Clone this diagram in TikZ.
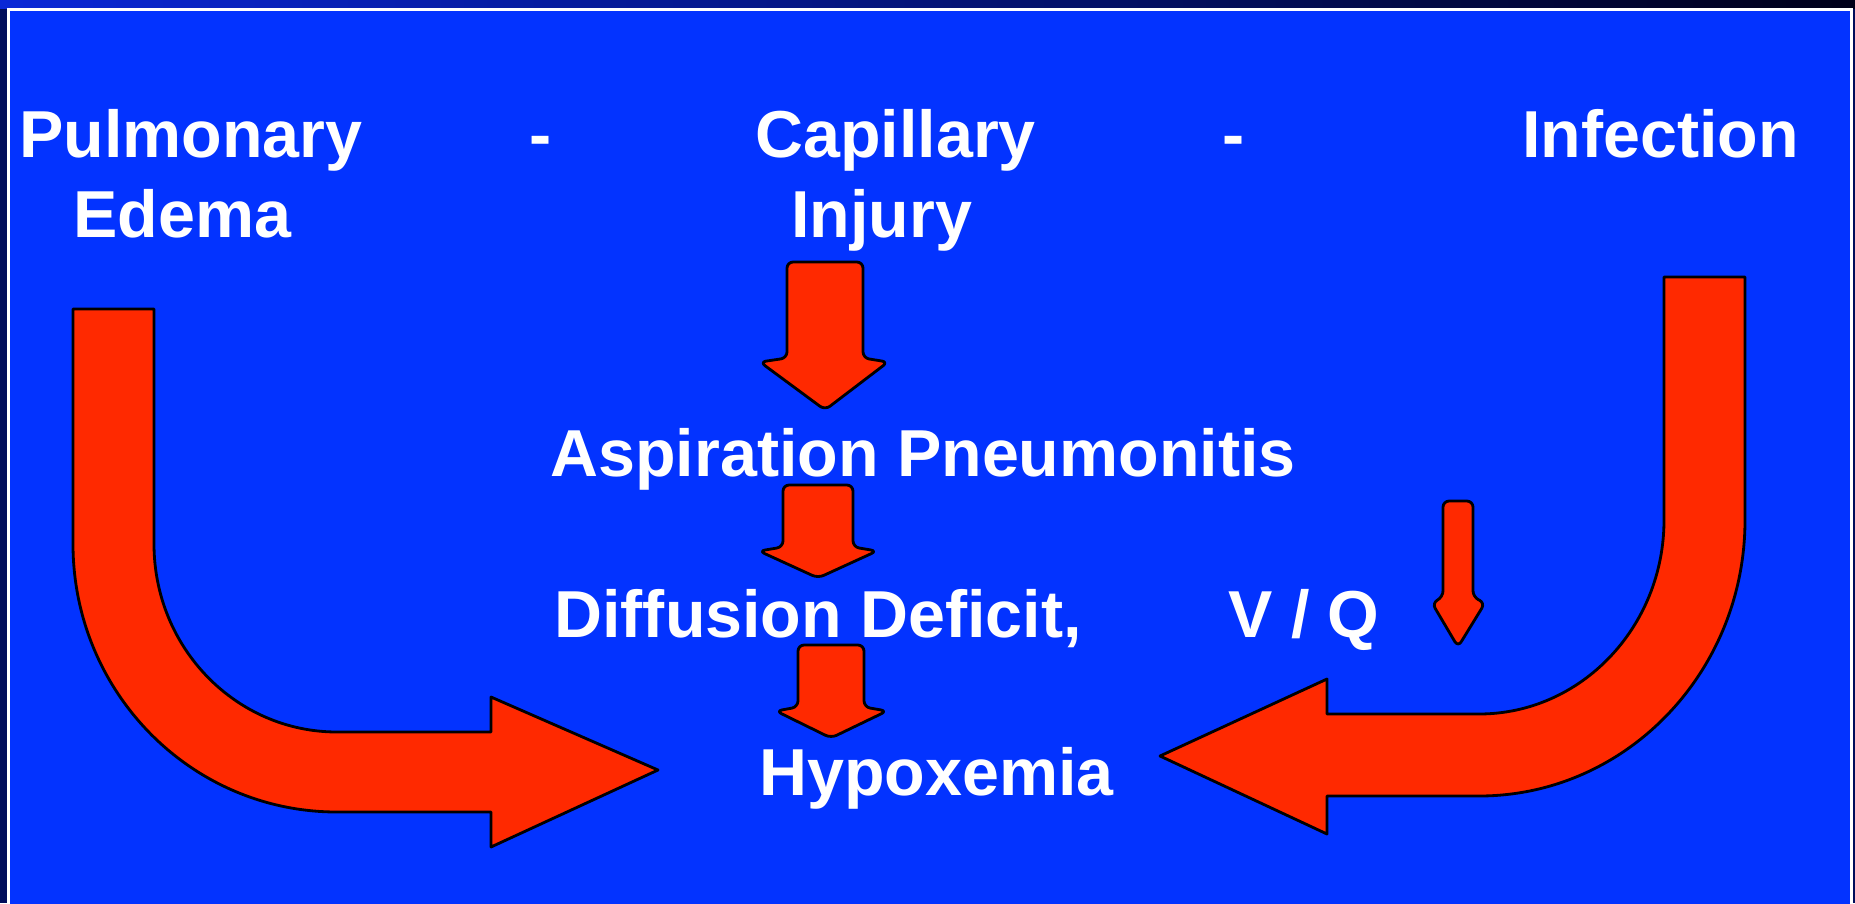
\documentclass[tikz,border=0pt]{standalone}
\usepackage{fontspec}
\setmainfont{Liberation Sans}
\definecolor{slideblue}{RGB}{3,51,255}
\definecolor{arrowred}{RGB}{255,41,0}
\definecolor{navy}{RGB}{0,12,90}
\tikzset{
  lbl/.style={text=white, font=\bfseries\fontsize{37.8}{40}\selectfont, inner sep=0pt, anchor=base west},
  fatarrow/.style={fill=arrowred, draw=black, line width=1.6pt, line join=round},
  roundarrow/.style={fatarrow, rounded corners=3.5pt}
}
\begin{document}
\begin{tikzpicture}[x=0.02cm,y=-0.02cm]
  \useasboundingbox (0,0) rectangle (1855,903);
  \fill[navy] (0,0) rectangle (1855,903);
  \shade[left color={rgb,255:red,10;green,40;blue,215}, right color={rgb,255:red,0;green,0;blue,25}] (0,0) rectangle (1855,8);
  \fill[slideblue] (9,9) rectangle (1852,920);
  \draw[white, line width=1.8pt] (8.5,9.5) rectangle (1851.5,920);

  \node[lbl] (pul) at (19,157) {Pulmonary};
  \node[lbl, anchor=base] (dasha) at (541,157) {-};
  \node[lbl] (cap) at (755,157) {Capillary};
  \node[lbl, anchor=base] (dashb) at (1234,157) {-};
  \node[lbl] (inf) at (1522,157) {Infection};
  \node[lbl] (ede) at (73,237) {Edema};
  \node[lbl] (inj) at (791,237) {Injury};
  \node[lbl] (asp) at (550,476) {Aspiration Pneumonitis};
  \node[lbl] (dif) at (554,637) {Diffusion Deficit,};
  \node[lbl] (vq) at (1228,637) {V / Q};
  \node[lbl] (hyp) at (759,795) {Hypoxemia};

  \draw[roundarrow] (787,262) -- (863,262) -- (863,358) -- (888,362) -- (825,410) -- (760,362) -- (787,358) -- cycle;
  \draw[roundarrow] (783,485) -- (853,485) -- (853,547) -- (877,551) -- (818,578) -- (759,551) -- (783,547) -- cycle;
  \draw[roundarrow] (798,645) -- (864,645) -- (864,707) -- (887,711) -- (831,738) -- (776,711) -- (798,707) -- cycle;
  \draw[roundarrow] (1443,501) -- (1473,501) -- (1473,597) -- (1485,603) -- (1458,647) -- (1432,603) -- (1443,597) -- cycle;

  \draw[fatarrow] (73,309) -- (154,309) -- (154,544)
    .. controls (154,648) and (236,732) .. (337,732)
    -- (491,732) -- (491,697) -- (658,770) -- (491,847) -- (491,812) -- (337,812)
    .. controls (191,812) and (73,692) .. (73,544) -- cycle;
  \draw[fatarrow] (1664,277) -- (1745,277) -- (1745,520)
    .. controls (1745,672) and (1626,796) .. (1479,796)
    -- (1327,796) -- (1327,834) -- (1160,756) -- (1327,679) -- (1327,714) -- (1479,714)
    .. controls (1581,714) and (1664,627) .. (1664,520) -- cycle;
\end{tikzpicture}
\end{document}
